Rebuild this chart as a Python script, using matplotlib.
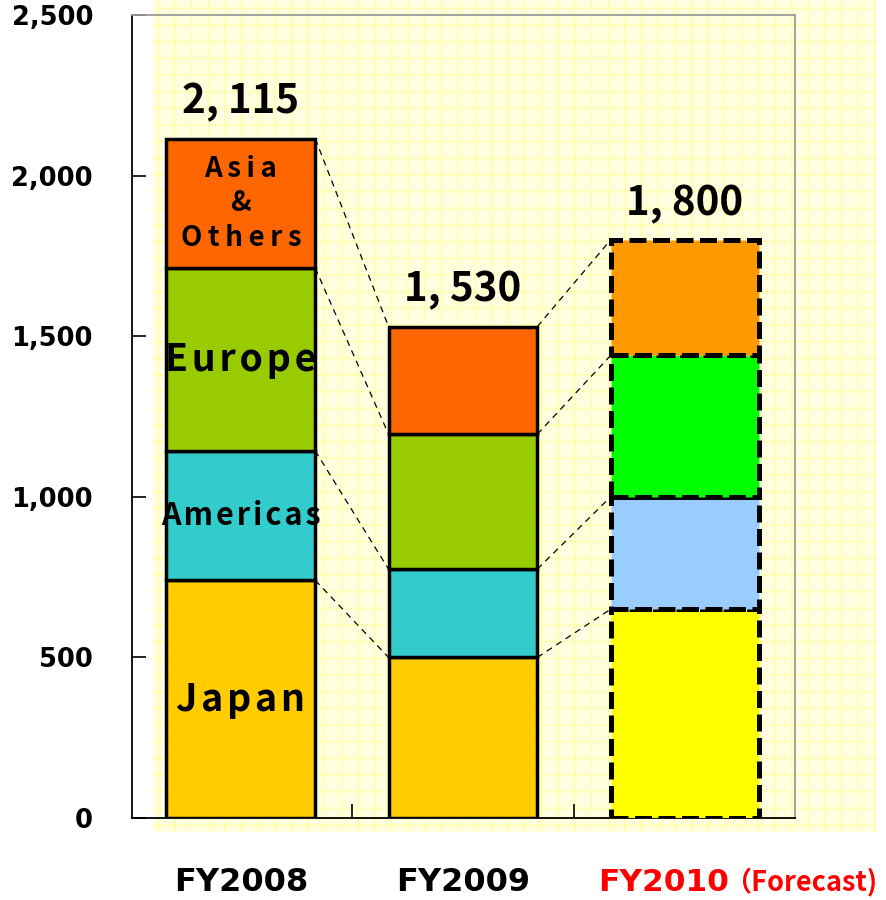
import matplotlib
matplotlib.use("Agg")
import matplotlib.pyplot as plt
from matplotlib.patches import Rectangle
import numpy as np

# ---- data ----
years = ["FY2008", "FY2009", "FY2010"]
forecast_suffix = "（Forecast)"
regions = ["Japan", "Americas", "Europe", "Asia & Others"]
japan = [740, 500, 650]
americas = [403, 275, 350]
europe = [569, 420, 440]
asia = [403, 335, 360]
totals = ["2, 115", "1, 530", "1, 800"]
yticks = [0, 500, 1000, 1500, 2000, 2500]
ytick_labels = ["0", "500", "1,000", "1,500", "2,000", "2,500"]

colors_actual = ["#FFCC00", "#33CCCC", "#99CC00", "#FF6600"]
colors_fcst = ["#FFFF00", "#99CCFF", "#00FF00", "#FF9900"]

plt.rcParams["hatch.linewidth"] = 1.0
fig = plt.figure(figsize=(8.86, 9.0), dpi=100)

# pale yellow patterned background
bg = Rectangle((153 / 886, 1 - 832 / 900), (876 - 153) / 886, 832 / 900,
               transform=fig.transFigure, facecolor="#FFFFE0",
               edgecolor="#FFFFA8", hatch="+", linewidth=0, zorder=-10)
fig.patches.append(bg)

ax = fig.add_axes([132 / 886, 82 / 900, (795 - 132) / 886, 803 / 900])
ax.set_facecolor("none")
ax.set_zorder(5)

series = [japan, americas, europe, asia]
x = np.arange(len(years))
width = 0.67
bottoms = np.zeros(len(years))
tops_all = []
for si, vals in enumerate(series):
    vals = np.array(vals, dtype=float)
    for i in range(len(years)):
        if i < 2:
            ax.bar(x[i], vals[i], width, bottom=bottoms[i],
                   color=colors_actual[si], edgecolor="black", linewidth=2.5, zorder=3)
        else:
            ax.bar(x[i], vals[i], width, bottom=bottoms[i],
                   color=colors_fcst[si], edgecolor="black", linewidth=3.6,
                   linestyle=(0, (3.4, 1.3)), zorder=3)
    bottoms = bottoms + vals
    tops_all.append(bottoms.copy())

# connector lines
for lv in tops_all:
    for i in range(len(years) - 1):
        ax.plot([x[i] + width / 2, x[i + 1] - width / 2], [lv[i], lv[i + 1]],
                color="black", linewidth=0.9, linestyle=(0, (5, 4)), zorder=2)

cjk = ["Noto Sans CJK JP", "DejaVu Sans"]
# totals
for i in range(len(years)):
    ax.text(x[i], bottoms[i] + 50, totals[i], ha="center", va="bottom",
            fontsize=29, fontweight="bold", family=cjk)

# region labels in first bar
hs = "\u200a"
ts = "\u2009"
lab_texts = [hs.join("Japan"), hs.join("Americas"), hs.join("Europe"),
             ts.join("Asia") + "\n&\n" + ts.join("Others")]
lab_sizes = [27, 22, 27, 20]
lab_spacing = [1.05, 1.05, 1.05, 1.3]
b = 0
for si, vals in enumerate(series):
    v = vals[0]
    ax.text(x[0], b + v / 2, lab_texts[si], ha="center", va="center",
            fontsize=lab_sizes[si], fontweight="bold", family=cjk,
            linespacing=lab_spacing[si], zorder=5)
    b += v

ax.set_xlim(-0.49, 2.495)
ax.set_ylim(0, 2500)
ax.set_yticks(yticks)
ax.set_yticklabels(ytick_labels, fontsize=18.5, family="DejaVu Sans", fontweight="bold")
ax.set_xticks([0.5, 1.5])
ax.set_xticklabels([])
ax.tick_params(axis="y", direction="in", length=10, width=1.2, pad=28)
ax.tick_params(axis="x", direction="in", length=10, width=1.2)

for s in ["left", "bottom"]:
    ax.spines[s].set_color("black")
    ax.spines[s].set_linewidth(1.3)
for s in ["top", "right"]:
    ax.spines[s].set_color("#999999")
    ax.spines[s].set_linewidth(1.3)

# category labels
ylab = -0.08 * 2500
ax.text(x[0], ylab, years[0], ha="center", va="center", fontsize=23,
        family="DejaVu Sans", fontweight="bold")
ax.text(x[1], ylab, years[1], ha="center", va="center", fontsize=23,
        family="DejaVu Sans", fontweight="bold")
t = ax.text(x[2] - 0.39, ylab, years[2], ha="left", va="center", fontsize=22.5,
            family="DejaVu Sans", fontweight="bold", color="red")
ax.annotate(forecast_suffix, xycoords=t, xy=(1, 0.5), xytext=(-4, 0),
            textcoords="offset points", ha="left", va="center",
            fontsize=19.5, family=cjk, color="red", fontweight="bold",
            annotation_clip=False)

fig.savefig("out.png", dpi=100)
